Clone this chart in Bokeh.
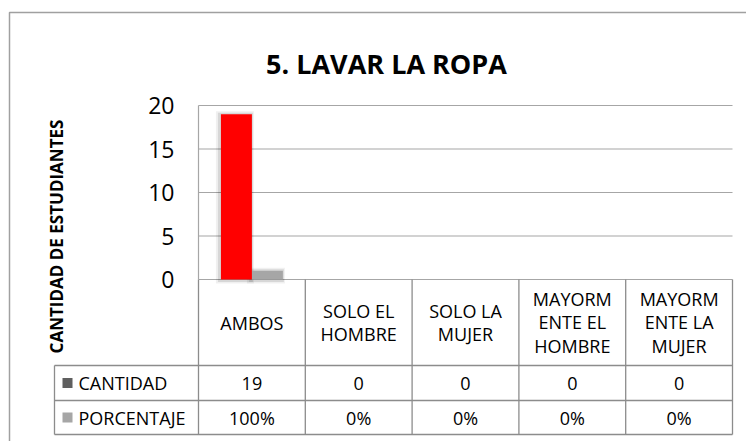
from math import pi
from bokeh.plotting import figure
from bokeh.models import Range1d
from bokeh.core.properties import value
from bokeh.embed import file_html
from bokeh.resources import INLINE

# ---------------- data ----------------
title = "5. LAVAR LA ROPA"
y_title = "CANTIDAD DE ESTUDIANTES"
categories = ["AMBOS", "SOLO EL\nHOMBRE", "SOLO LA\nMUJER",
              "MAYORM\nENTE EL\nHOMBRE", "MAYORM\nENTE LA\nMUJER"]
series_names = ["CANTIDAD", "PORCENTAJE"]
cantidad = [19, 0, 0, 0, 0]
porcentaje = [1.0, 0, 0, 0, 0]
porcentaje_labels = ["100%", "0%", "0%", "0%", "0%"]
y_ticks = [0, 5, 10, 15, 20]

# ---------------- layout (screen px) ----------------
W, H = 746, 441
def sx(x): return x
def sy(y): return H - y

PL, PR, PT, PB = 198, 732, 105, 279
T_LEFT = 54
ROWS = [365, 400, 434]
YMAX = 20
n = len(categories)
FONT = value("Open Sans")

cpp = n / (PR - PL)
vpp = YMAX / (PB - PT)
cat_range = Range1d(-sx(PL) * cpp, n + (W - sx(PR)) * cpp)
val_range = Range1d(-sy(PB) * vpp, YMAX + (H - sy(PT)) * vpp)

p = figure(width=W, height=H, x_range=Range1d(0, W), y_range=Range1d(0, H),
           output_backend="svg", toolbar_location=None, min_border=0,
           x_axis_type=None, y_axis_type=None, outline_line_color=None,
           background_fill_color="white", border_fill_color="white")
p.grid.visible = False
p.extra_x_ranges = {"cat": cat_range}
p.extra_y_ranges = {"val": val_range}

# outer chart border (right/bottom edges fall outside the picture)
p.quad(left=[sx(9)], right=[W + 20], top=[sy(12)], bottom=[-20],
       fill_color=None, line_color="#a0a0a0", line_width=1.5)

# gridlines
k = len(y_ticks)
p.segment(x0=[0] * k, x1=[n] * k, y0=y_ticks, y1=y_ticks,
          x_range_name="cat", y_range_name="val",
          line_color="#a6a6a6", line_width=1.2)

# bars
bw = 0.29
xc = [i + 0.5 - bw / 2 for i in range(n)]
xp = [i + 0.5 + bw / 2 for i in range(n)]

def shadows(xs, vals):
    sel = [(x, v) for x, v in zip(xs, vals) if v > 0]
    for (l, r, t, b, a) in [(5, 2, 3, 4, 0.06), (3, 1, 1.5, 2.5, 0.10)]:
        p.quad(left=[x - bw / 2 - l * cpp for x, v in sel],
               right=[x + bw / 2 + r * cpp for x, v in sel],
               top=[v + t * vpp for x, v in sel],
               bottom=[-b * vpp for x, v in sel],
               x_range_name="cat", y_range_name="val",
               fill_color="black", fill_alpha=a, line_color=None)

shadows(xc, cantidad)
shadows(xp, porcentaje)
p.vbar(x=xp, top=porcentaje, bottom=0, width=bw, x_range_name="cat",
       y_range_name="val", fill_color="#a6a6a6", line_color=None)
p.vbar(x=xc, top=cantidad, bottom=0, width=bw, x_range_name="cat",
       y_range_name="val", fill_color="#ff0000", line_color=None)

# table lines
TL = "#8c8c8c"
p.segment(x0=[sx(T_LEFT)] * 3, x1=[sx(PR)] * 3, y0=[sy(r) for r in ROWS],
          y1=[sy(r) for r in ROWS], line_color=TL, line_width=1.3)
p.segment(x0=[sx(T_LEFT)], x1=[sx(T_LEFT)], y0=[sy(ROWS[0])], y1=[sy(ROWS[2])],
          line_color=TL, line_width=1.3)
p.segment(x0=list(range(n + 1)), x1=list(range(n + 1)),
          y0=[sy(PB)] * (n + 1), y1=[sy(ROWS[2])] * (n + 1),
          x_range_name="cat", line_color=TL, line_width=1.3)
# plot-area left edge
p.segment(x0=[0], x1=[0], y0=[0], y1=[YMAX], x_range_name="cat",
          y_range_name="val", line_color="#a6a6a6", line_width=1.2)

# title
p.text(x=[sx(386)], y=[sy(63)], text=[title], text_font=FONT,
       text_font_style="bold", text_font_size="27px", text_align="center",
       text_baseline="alphabetic", text_color="black")

# y-axis title
p.text(x=[sx(55.5)], y=[sy(236)], text=[y_title], angle=pi / 2,
       text_font=FONT, text_font_style="bold", text_font_size="17px",
       text_align="center", text_baseline="middle", text_color="black")

# y tick labels
p.text(x=[sx(174)] * k, y=y_ticks, y_range_name="val",
       text=[str(t) for t in y_ticks], text_font=FONT, text_font_size="23px",
       text_align="right", text_baseline="middle", text_color="black")

# category header labels
p.text(x=[i + 0.5 for i in range(n)], y=[sy((PB + ROWS[0]) / 2)] * n,
       x_range_name="cat", text=categories, text_font=FONT,
       text_font_size="18px", text_align="center", text_baseline="middle",
       text_line_height=0.98, text_color="black")

# data rows
r1 = sy((ROWS[0] + ROWS[1]) / 2)
r2 = sy((ROWS[1] + ROWS[2]) / 2)
p.text(x=[i + 0.5 for i in range(n)], y=[r1] * n, x_range_name="cat",
       text=[str(v) for v in cantidad], text_font=FONT, text_font_size="18px",
       text_align="center", text_baseline="middle", text_color="black")
p.text(x=[i + 0.5 for i in range(n)], y=[r2] * n, x_range_name="cat",
       text=porcentaje_labels, text_font=FONT, text_font_size="18px",
       text_align="center", text_baseline="middle", text_color="black")

# legend keys + series names
p.rect(x=[sx(67)] * 2, y=[r1, r2], width=10, height=10,
       fill_color=["#5f5f5f", "#a6a6a6"], line_color=None)
p.text(x=[sx(78)] * 2, y=[r1, r2], text=series_names, text_font=FONT,
       text_font_size="18px", text_align="left", text_baseline="middle",
       text_color="black")

open("out.html", "w").write(file_html(p, INLINE))
